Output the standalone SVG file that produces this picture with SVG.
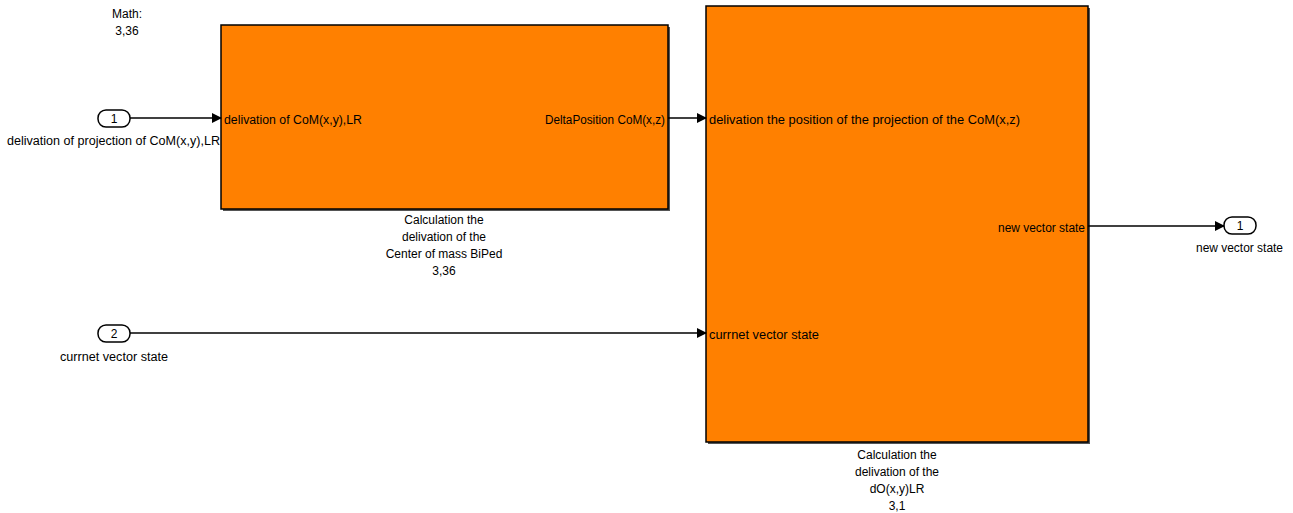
<svg xmlns="http://www.w3.org/2000/svg" width="1293" height="513" viewBox="0 0 1293 513">
<style>
text{font-family:"Liberation Sans",Arial,sans-serif;font-size:12px;fill:#000}
.blk{fill:#ff8000;stroke:#000;stroke-width:1.5}
.sh{fill:#555}
.port{fill:#fff;stroke:#000;stroke-width:1.5}
.ln{stroke:#000;stroke-width:1.5;fill:none}
.c{text-anchor:middle}
</style>
<defs>
<marker id="ar" markerWidth="10" markerHeight="10" refX="9" refY="5" orient="auto" markerUnits="userSpaceOnUse">
<path d="M0,0 L10,5 L0,10 z" fill="#000"/>
</marker>
</defs>
<g id="annotation">
<text x="127" y="18" class="c">Math:</text>
<text x="127" y="35" class="c">3,36</text>
</g>
<g id="in1">
<rect class="port" x="98" y="110" width="32" height="17" rx="8"/>
<text x="114" y="123" class="c">1</text>
<text x="7" y="145" textLength="213" lengthAdjust="spacingAndGlyphs">delivation of projection of CoM(x,y),LR</text>
</g>
<g id="in2">
<rect class="port" x="98" y="325" width="32" height="17" rx="8"/>
<text x="114" y="338" class="c">2</text>
<text x="60" y="361" textLength="108" lengthAdjust="spacingAndGlyphs">currnet vector state</text>
</g>
<g id="out1">
<rect class="port" x="1224" y="217" width="32" height="17" rx="8"/>
<text x="1240" y="230" class="c">1</text>
<text x="1196" y="252" textLength="87" lengthAdjust="spacingAndGlyphs">new vector state</text>
</g>
<g id="block1">
<rect class="sh" x="223" y="27" width="447" height="184"/>
<rect class="blk" x="221" y="25" width="447" height="184"/>
<text x="224" y="124" textLength="138" lengthAdjust="spacingAndGlyphs">delivation of CoM(x,y),LR</text>
<text x="545" y="124" textLength="120" lengthAdjust="spacingAndGlyphs">DeltaPosition CoM(x,z)</text>
<text x="444" y="224" class="c">Calculation the</text>
<text x="444" y="241" class="c">delivation of the</text>
<text x="444" y="258" class="c">Center of mass BiPed</text>
<text x="444" y="275" class="c">3,36</text>
</g>
<g id="block2">
<rect class="sh" x="708" y="8" width="382" height="436"/>
<rect class="blk" x="706" y="6" width="382" height="436"/>
<text x="709" y="124" textLength="311" lengthAdjust="spacingAndGlyphs">delivation the position of the projection of the CoM(x,z)</text>
<text x="998" y="232" textLength="87" lengthAdjust="spacingAndGlyphs">new vector state</text>
<text x="709" y="339" textLength="110" lengthAdjust="spacingAndGlyphs">currnet vector state</text>
<text x="897" y="459" class="c">Calculation the</text>
<text x="897" y="476" class="c">delivation of the</text>
<text x="897" y="493" class="c">dO(x,y)LR</text>
<text x="897" y="510" class="c">3,1</text>
</g>
<g id="connectors">
<line class="ln" x1="130" y1="118" x2="221" y2="118" marker-end="url(#ar)"/>
<line class="ln" x1="668" y1="118" x2="706" y2="118" marker-end="url(#ar)"/>
<line class="ln" x1="130" y1="333" x2="706" y2="333" marker-end="url(#ar)"/>
<line class="ln" x1="1088" y1="226" x2="1224" y2="226" marker-end="url(#ar)"/>
</g>
</svg>
